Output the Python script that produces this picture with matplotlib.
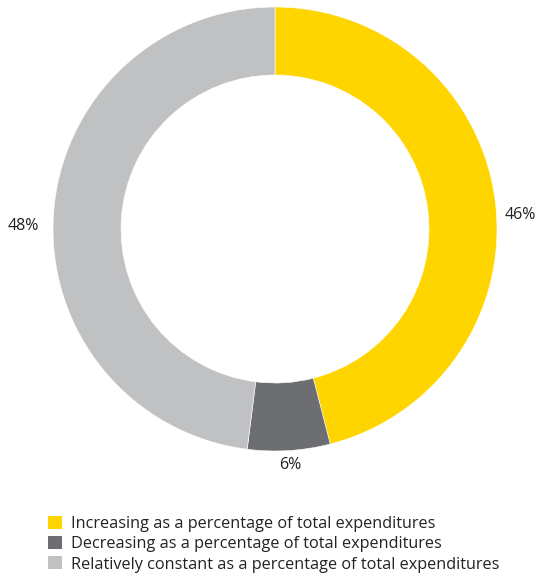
import matplotlib.pyplot as plt
from matplotlib.patches import Patch

shares = [46, 6, 48]
labels = ['Increasing as a percentage of total expenditures',
          'Decreasing as a percentage of total expenditures',
          'Relatively constant as a percentage of total expenditures']
colors = ['#FFD500', '#6D6E71', '#C0C1C3']
pct_text = ['46%', '6%', '48%']

plt.rcParams['font.family'] = ['Open Sans', 'DejaVu Sans']

W, H = 537, 576
fig = plt.figure(figsize=(W / 100, H / 100), dpi=100)
ax = fig.add_axes([0, 0, 1, 1])

cx, cy, r = 275, H - 229, 222
wedges, _ = ax.pie(shares, colors=colors, startangle=90, counterclock=False,
                   center=(cx, cy), radius=r, frame=True,
                   wedgeprops=dict(width=68, linewidth=0.4, edgecolor='white'))
ax.set_xlim(0, W)
ax.set_ylim(0, H)
ax.set_aspect('equal')
ax.axis('off')

# value labels beside each ring segment
label_pos = [(520, H - 215), (290, H - 465), (23, H - 226)]
for (x, y), t in zip(label_pos, pct_text):
    ax.text(x, y, t, ha='center', va='center', fontsize=11.5, color='#222222')

handles = [Patch(facecolor=c, edgecolor='none') for c in colors]
ax.legend(handles, labels, loc='upper left', bbox_to_anchor=(40 / W, 1 - 508 / H),
          frameon=False, fontsize=11.7, handlelength=0.85, handleheight=0.85,
          handletextpad=0.55, labelspacing=0.25, borderpad=0, labelcolor='#222222')

fig.savefig('out.png', dpi=100)
